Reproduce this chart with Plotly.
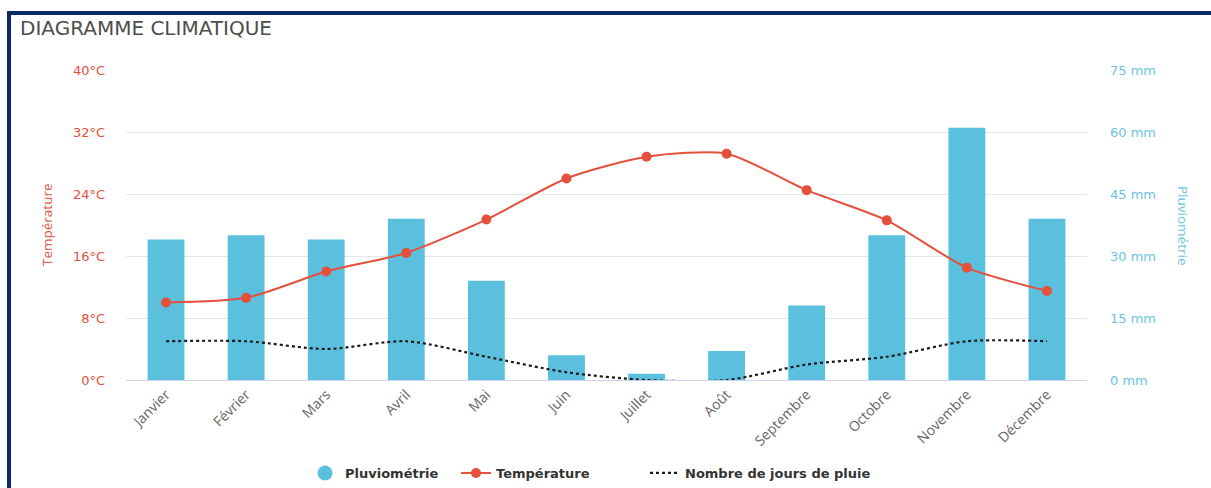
import plotly.graph_objects as go

# Monthly climate values
mois = ["Janvier", "Février", "Mars", "Avril", "Mai", "Juin", "Juillet",
        "Août", "Septembre", "Octobre", "Novembre", "Décembre"]
pluviometrie_mm = [34, 35, 34, 39, 24, 6, 1.5, 7, 18, 35, 61, 39]
temperature_c = [10, 10.6, 14, 16.4, 20.7, 26, 28.8, 29.2, 24.5, 20.6, 14.5, 11.5]
jours_de_pluie = [5, 5, 4, 5, 3, 1, 0, 0, 2, 3, 5, 5]

temp_ticks = [0, 8, 16, 24, 32, 40]
pluie_ticks = [0, 15, 30, 45, 60, 75]

ROUGE = "#e4503b"
BLEU = "#5bc0de"
BLEU_TXT = "#6cc3e3"

# plot-area geometry in pixels
W, H = 1211, 488
ML, MR, MT, MB = 126, 124, 70, 108
PW, PH = W - ML - MR, H - MT - MB


def px_x(x):
    return (x - ML) / PW


def px_y(y):
    return (H - MB - y) / PH


fig = go.Figure()

# Precipitation bars (primary axis, drawn underneath)
fig.add_trace(go.Bar(
    x=mois, y=pluviometrie_mm, name="Pluviométrie",
    marker=dict(color=BLEU, line=dict(width=0)),
    yaxis="y", showlegend=False, hoverinfo="x+y",
))
# Legend entry with a round symbol for the bars
fig.add_trace(go.Scatter(
    x=[None], y=[None], mode="markers", name="Pluviométrie",
    marker=dict(color=BLEU, size=15, symbol="circle"), yaxis="y",
    legend="legend",
))
fig.add_trace(go.Scatter(
    x=mois, y=temperature_c, name="Température", mode="lines+markers",
    line=dict(color=ROUGE, width=2, shape="spline", smoothing=0.7),
    marker=dict(color=ROUGE, size=10), yaxis="y2", legend="legend2",
))
fig.add_trace(go.Scatter(
    x=mois, y=jours_de_pluie, name="Nombre de jours de pluie", mode="lines",
    line=dict(color="#1a1a1a", width=2.2, dash="dot", shape="spline", smoothing=0.8),
    yaxis="y2", legend="legend3",
))

legend_font = dict(family="DejaVu Sans", size=13, color="#333", weight="bold")


def legend_at(px_left):
    return dict(
        orientation="h", x=px_x(px_left), xanchor="left",
        y=px_y(473), yanchor="middle", font=legend_font,
        bgcolor="rgba(0,0,0,0)", borderwidth=0,
    )


fig.update_layout(
    width=W, height=H,
    margin=dict(l=ML, r=MR, t=MT, b=MB, autoexpand=False),
    paper_bgcolor="white", plot_bgcolor="white",
    bargap=0.54,
    font=dict(family="Open Sans", color="#666"),
    xaxis=dict(
        type="category", range=[-0.5, len(mois) - 0.5],
        tickangle=-45, showgrid=False, zeroline=False, automargin=False,
        showline=True, linecolor="#ccd6eb", linewidth=1,
        tickfont=dict(family="Open Sans", size=14, color="#666"),
        ticks="", fixedrange=True,
    ),
    yaxis=dict(
        side="right", range=[0, 75], tickvals=pluie_ticks, automargin=False,
        ticktext=[f"{v} mm" for v in pluie_ticks],
        tickfont=dict(family="DejaVu Sans", size=13, color=BLEU_TXT),
        showgrid=True, gridcolor="#e6e6e6", gridwidth=1, zeroline=False,
        ticklabelstandoff=22, fixedrange=True,
    ),
    yaxis2=dict(
        side="left", overlaying="y", range=[0, 40], tickvals=temp_ticks,
        automargin=False,
        ticktext=[f"{v}°C" for v in temp_ticks],
        tickfont=dict(family="DejaVu Sans", size=13, color=ROUGE),
        showgrid=False, zeroline=False, ticklabelstandoff=20, fixedrange=True,
    ),
    legend=legend_at(305),
    legend2=legend_at(456),
    legend3=legend_at(645),
    annotations=[
        dict(text="DIAGRAMME CLIMATIQUE", xref="paper", yref="paper",
             x=px_x(18), y=px_y(28), xanchor="left", yanchor="middle",
             showarrow=False, font=dict(family="DejaVu Sans", size=20, color="#4d4d4d")),
        dict(text="Température", xref="paper", yref="paper",
             x=px_x(47), y=px_y(225), xanchor="center", yanchor="middle",
             textangle=-90, showarrow=False,
             font=dict(family="Open Sans", size=13.5, color=ROUGE)),
        dict(text="Pluviométrie", xref="paper", yref="paper",
             x=px_x(1183), y=px_y(225), xanchor="center", yanchor="middle",
             textangle=90, showarrow=False,
             font=dict(family="Open Sans", size=13.5, color=BLEU_TXT)),
    ],
    shapes=[
        dict(type="rect", xref="paper", yref="paper",
             x0=px_x(9), x1=px_x(1240), y0=px_y(520), y1=px_y(13),
             line=dict(color="#0b2a66", width=4), fillcolor="rgba(0,0,0,0)",
             layer="above"),
    ],
)

fig.write_html("out.html")
